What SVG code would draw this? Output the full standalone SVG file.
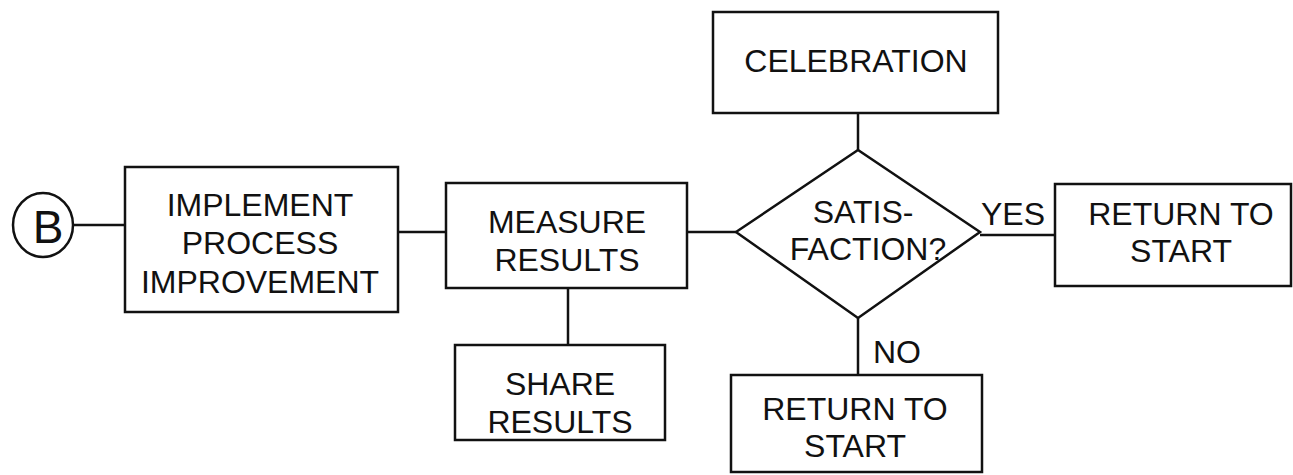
<svg xmlns="http://www.w3.org/2000/svg" width="1293" height="475" viewBox="0 0 1293 475">
<style>
.s{fill:#fff;stroke:#111;stroke-width:2.5}
.c{fill:none;stroke:#111;stroke-width:2.5}
text{font-family:"Liberation Sans",Arial,sans-serif;font-size:32px;fill:#111}
.m{text-anchor:middle}
</style>
<rect width="1293" height="475" fill="#fff"/>
<g id="connectors">
<line class="c" x1="73" y1="225" x2="125" y2="225"/>
<line class="c" x1="398" y1="232" x2="446" y2="232"/>
<line class="c" x1="687" y1="232" x2="736" y2="232"/>
<line class="c" x1="568" y1="288" x2="568" y2="345"/>
<line class="c" x1="858" y1="113" x2="858" y2="150"/>
<line class="c" x1="980" y1="235" x2="1055" y2="235"/>
<line class="c" x1="858" y1="318" x2="858" y2="375"/>
<text x="981" y="225">YES</text>
<text x="873" y="363">NO</text>
</g>
<g id="nodeB">
<ellipse class="s" cx="43" cy="225" rx="30" ry="32"/>
<text class="m" x="48" y="243" style="font-size:46px">B</text>
</g>
<g id="implement">
<rect class="s" x="125" y="167" width="273" height="145"/>
<text class="m" x="260" y="216">IMPLEMENT</text>
<text class="m" x="260" y="254">PROCESS</text>
<text class="m" x="260" y="293">IMPROVEMENT</text>
</g>
<g id="measure">
<rect class="s" x="446" y="183" width="241" height="105"/>
<text class="m" x="567" y="233">MEASURE</text>
<text class="m" x="567" y="271">RESULTS</text>
</g>
<g id="share">
<rect class="s" x="455" y="345" width="210" height="95"/>
<text class="m" x="560" y="395">SHARE</text>
<text class="m" x="560" y="433">RESULTS</text>
</g>
<g id="celebration">
<rect class="s" x="713" y="12" width="285" height="101"/>
<text class="m" x="856" y="72">CELEBRATION</text>
</g>
<g id="satisfaction">
<polygon class="s" points="736,232 858,150 980,232 858,318"/>
<text class="m" x="863" y="223">SATIS-</text>
<text class="m" x="868" y="260">FACTION?</text>
</g>
<g id="returnYes">
<rect class="s" x="1055" y="184" width="236" height="102"/>
<text class="m" x="1181" y="225">RETURN TO</text>
<text class="m" x="1181" y="262">START</text>
</g>
<g id="returnNo">
<rect class="s" x="731" y="375" width="251" height="97"/>
<text class="m" x="855" y="420">RETURN TO</text>
<text class="m" x="855" y="457">START</text>
</g>
</svg>
